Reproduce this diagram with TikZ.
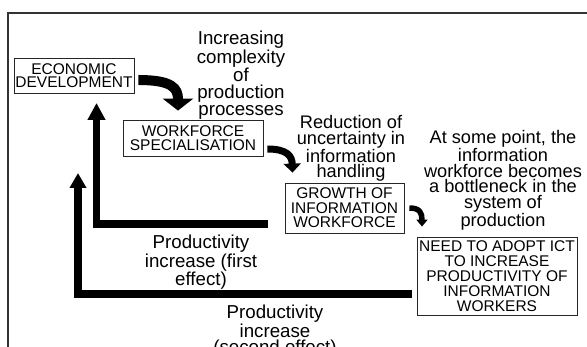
\documentclass[tikz,border=0pt]{standalone}
\usepackage{fontspec}
\setmainfont{Liberation Sans}
\usetikzlibrary{arrows.meta,positioning}

\begin{document}
\begin{tikzpicture}[x=1pt,y=-1pt,>=Triangle]
\tikzstyle{box}=[draw=black!85,line width=0.8pt,inner sep=0pt,align=center,font=\fontsize{15.5}{13.5}\selectfont]
\tikzstyle{lbl}=[inner sep=0pt,align=center,anchor=north,font=\fontsize{18.7}{17}\selectfont]
\tikzstyle{lbs}=[inner sep=0pt,align=center,anchor=north,font=\fontsize{18.2}{15.8}\selectfont]
\tikzstyle{fb}=[line width=7.5pt]
\clip (0,0) rectangle (587,347);
% frame, cut by the page
\draw[black!80,line width=1.3pt] (8,360) -- (8,13) -- (600,13);
% boxes
\node[box,minimum width=120pt,minimum height=35pt] (eco) at (74,75.5) {ECONOMIC\\ DEVELOPMENT};
\node[box,minimum width=140pt,minimum height=36pt] (spec) at (193,138) {WORKFORCE\\ SPECIALISATION};
\node[box,minimum width=119pt,minimum height=50pt,font=\fontsize{15.5}{14.5}\selectfont] (grow) at (344.5,208) {GROWTH OF\\ INFORMATION\\ WORKFORCE};
\node[box,minimum width=160pt,minimum height=78pt,font=\fontsize{15.5}{15}\selectfont] (ict) at (497,276) {NEED TO ADOPT ICT\\ TO INCREASE\\ PRODUCTIVITY OF\\ INFORMATION\\ WORKERS};
% labels
\node[lbl] (inc) at (241,31) {Increasing\\ complexity\\ of\\ production\\ processes};
\node[lbs] (red) at (351,115) {Reduction of\\ uncertainty in\\ information\\ handling};
\node[lbs] (neck) at (503,130) {At some point, the\\ information\\ workforce becomes\\ a bottleneck in the\\ system of\\ production};
\node[lbl,font=\fontsize{18.7}{16}\selectfont] (first) at (201,235) {Productivity\\ increase (first\\ effect)};
\node[lbl,font=\fontsize{18.7}{16.5}\selectfont] (second) at (275,305) {Productivity\\ increase\\ (second effect)};
% curved arrows
\draw[line width=10pt,-{Triangle[width=30pt,length=12pt]}] ([shift={(4,4.5)}]eco.east) .. controls (172,80) and (178,88) .. ([shift={(-15,-9)}]spec.north);
\draw[line width=7pt,-{Triangle[width=17pt,length=9pt]}] ([shift={(4,11)}]spec.east) .. controls (287,149) and (292,156) .. ([shift={(-52,-10)}]grow.north);
\draw[line width=5.5pt,-{Triangle[width=11pt,length=7pt]}] ([shift={(5,0)}]grow.east) .. controls (420,208) and (422,213) .. ([shift={(-75,-10)}]ict.north);
% feedback arrows
\coordinate (tip1) at (96.5,103);
\coordinate (tip2) at (78,173);
\draw[fb,-{Triangle[width=17pt,length=17pt]}] ([shift={(-17,16)}]grow.west) -| (tip1);
\draw[fb,-{Triangle[width=16pt,length=15pt]}] ([shift={(-5,18)}]ict.west) -| (tip2);
\end{tikzpicture}
\end{document}
